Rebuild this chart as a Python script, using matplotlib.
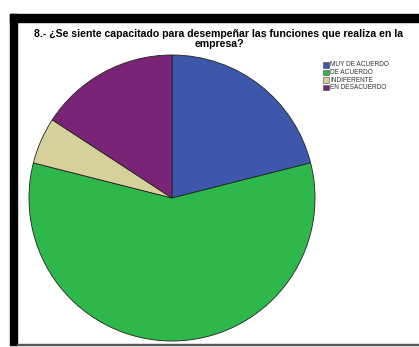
import matplotlib
matplotlib.use("Agg")
import matplotlib.pyplot as plt
from matplotlib.patches import Rectangle

# survey answers for question 8
categories = ["MUY DE ACUERDO", "DE ACUERDO", "INDIFERENTE", "EN DESACUERDO"]
counts = [4, 11, 1, 3]
colors = ["#3D57AB", "#2EB84B", "#D6D09B", "#7A2478"]
title = "8.- ¿Se siente capacitado para desempeñar las funciones que realiza en la\nempresa?"

W, H = 419, 347
fig = plt.figure(figsize=(W / 100, H / 100), dpi=100)
fig.patch.set_facecolor("white")

# black frame around the output panel
fig.patches.append(Rectangle((10 / W, 1 - 22 / H), 1 - 10 / W, 8 / H,
                             transform=fig.transFigure, color="black", zorder=5))
fig.patches.append(Rectangle((10 / W, 1 - 345 / H), 7 / W, (345 - 14) / H,
                             transform=fig.transFigure, color="black", zorder=5))
fig.patches.append(Rectangle((17 / W, 1 - 345 / H), 1 - 17 / W, 1.2 / H,
                             transform=fig.transFigure, color="#555555", zorder=5))

fig.text(219 / W, 1 - 39 / H, title, ha="center", va="center",
         fontsize=7.6, fontweight="bold", family="Liberation Sans", linespacing=0.95)

# pie centred at (172, 198) px with radius 143 px
r = 143
ax = fig.add_axes([(172 - r) / W, 1 - (198 + r) / H, 2 * r / W, 2 * r / H])
ax.pie(counts, colors=colors, startangle=90, counterclock=False,
       wedgeprops=dict(edgecolor="#222222", linewidth=0.6), radius=1)
ax.set_xlim(-1, 1)
ax.set_ylim(-1, 1)
ax.set_aspect("auto")
ax.axis("off")

# legend
for i, (lab, c) in enumerate(zip(categories, colors)):
    y = 62 + i * 7.6
    fig.patches.append(Rectangle((323 / W, 1 - (y + 5.5) / H), 5.5 / W, 5.5 / H,
                                 transform=fig.transFigure, facecolor=c,
                                 edgecolor="#444444", linewidth=0.4))
    fig.text(330 / W, 1 - (y + 2.9) / H, lab, ha="left", va="center",
             fontsize=4.7, family="Liberation Sans", color="#333333")

fig.savefig("out.png", dpi=100)
